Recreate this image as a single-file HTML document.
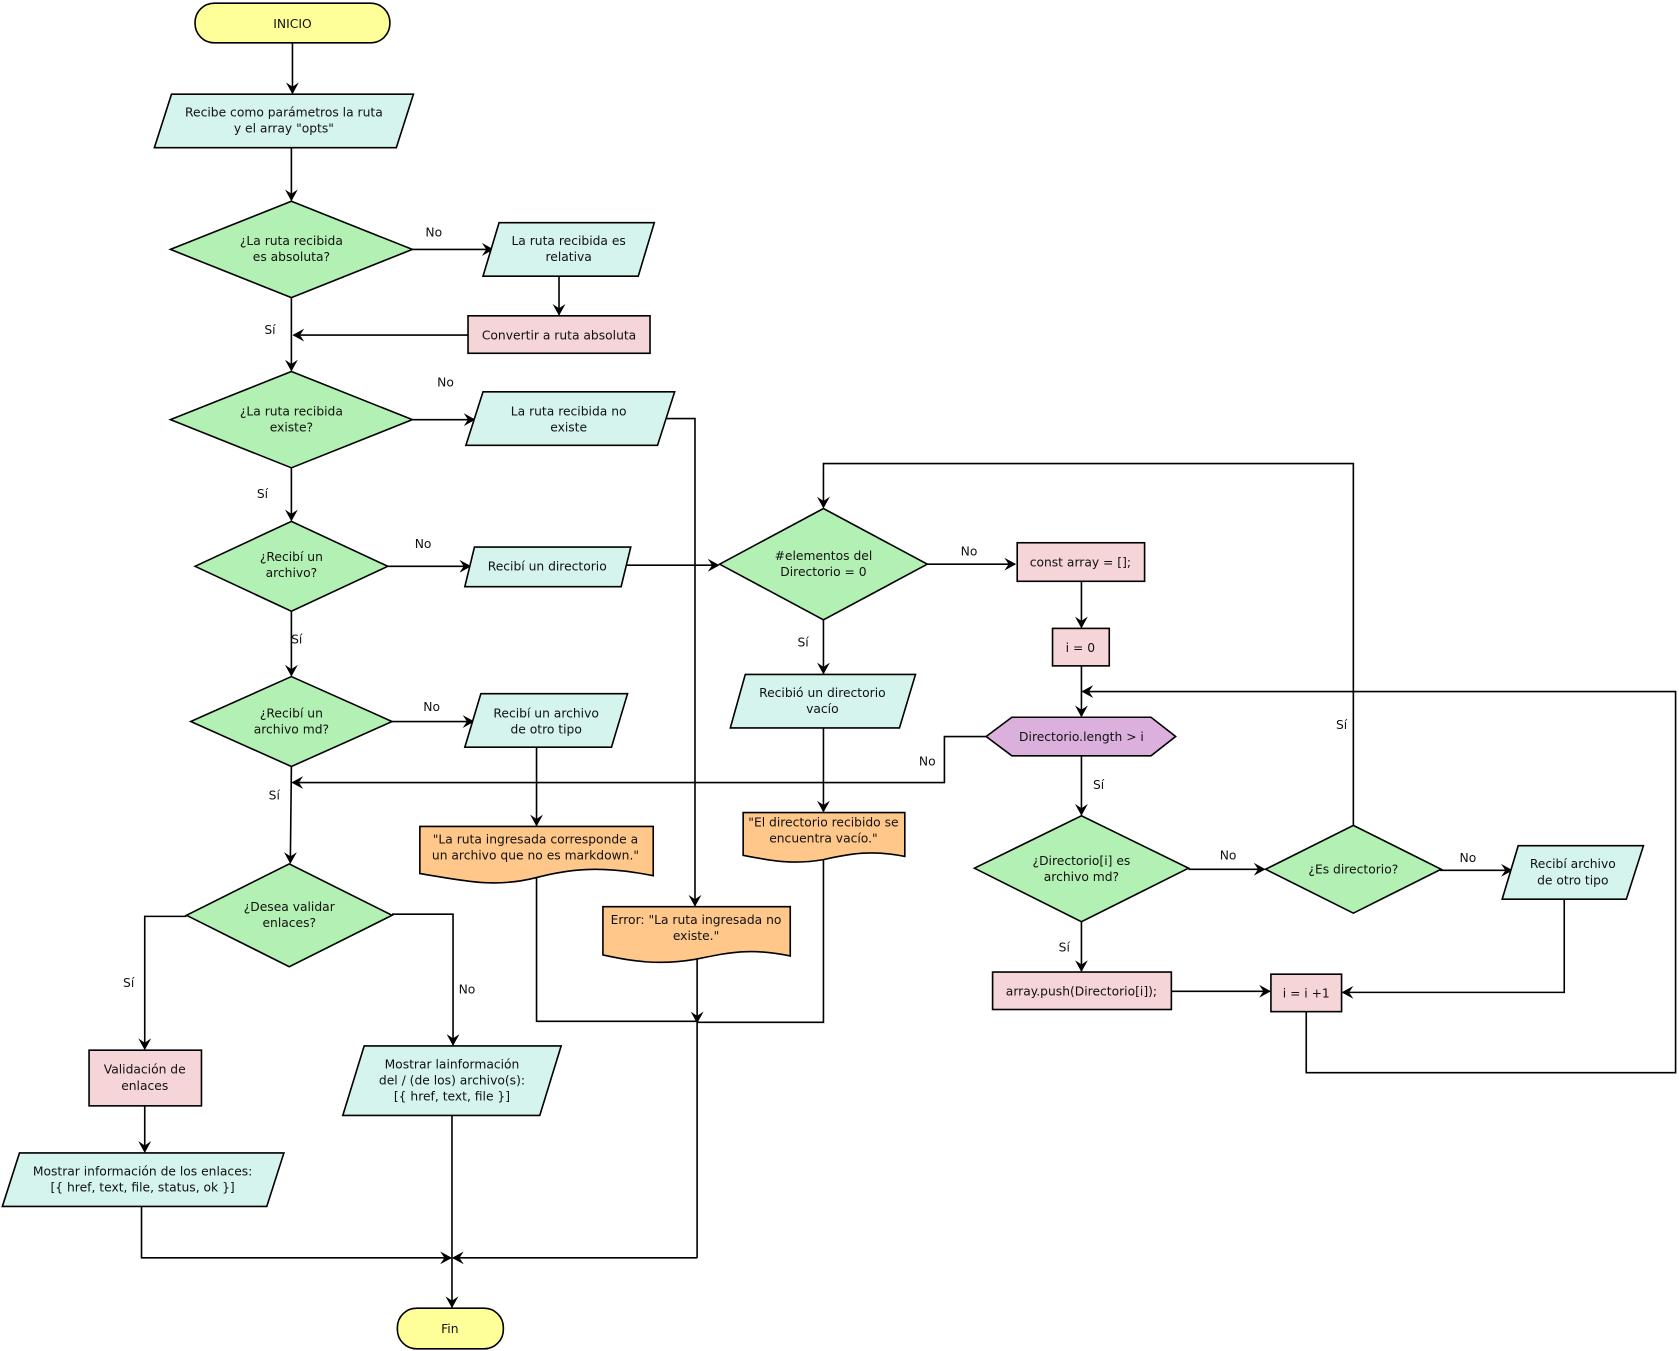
<!DOCTYPE html>
<html><head><meta charset="utf-8"><style>
html,body{margin:0;padding:0;background:#fff;}
svg{display:block;}
text{font-family:"DejaVu Sans","Liberation Sans",sans-serif;font-size:11.5px;fill:#111;text-anchor:middle;}
.s{stroke:#000;stroke-width:1.5;}
.l{fill:none;stroke:#000;stroke-width:1.5;}
</style></head><body>
<svg width="1679" height="1351" viewBox="0 0 1568 1262" xmlns="http://www.w3.org/2000/svg">
<defs><marker id="a" markerWidth="12" markerHeight="12" refX="10" refY="6" orient="auto" markerUnits="userSpaceOnUse"><path d="M0,0 L11,6 L0,12 L4,6 Z" fill="#000"/></marker></defs>

<!-- connectors -->
<g class="l" marker-end="url(#a)">
<path d="M273,40 V87"/>
<path d="M272,138 V187"/>
<path d="M385,233 H460"/>
<path d="M522,258 V294"/>
<path d="M437,313 H274"/>
<path d="M272,278 V346"/>
<path d="M385,392 H443"/>
<path d="M620,391 H649 V846"/>
<path d="M272,437 V486"/>
<path d="M362,529 H439"/>
<path d="M575,528 H671"/>
<path d="M272,571 V631"/>
<path d="M366,674 H442"/>
<path d="M501,698 V771"/>
<path d="M272,716 L271,806"/>
<path d="M921,688 H882 V731 H273"/>
<path d="M174,856 H135 V980"/>
<path d="M366,854 H423 V976"/>
<path d="M135,1033 V1076"/>
<path d="M132,1127 V1175 H421"/>
<path d="M422,1042 V1221"/>
<path d="M651,1175 H423"/>
<path d="M651,895 V955"/>
<path d="M769,579 V629"/>
<path d="M769,680 V758"/>
<path d="M866,527 H948"/>
<path d="M1010,543 V586"/>
<path d="M1010,622 V669"/>
<path d="M1220,945 V1002 H1565 V646 H1011"/>
<path d="M1010,706 V761"/>
<path d="M1110,812 H1181"/>
<path d="M1010,861 V907"/>
<path d="M1345,813 H1412"/>
<path d="M1264,771 V433 H769 V474"/>
<path d="M1094,926 H1186"/>
<path d="M1461,840 V927 H1254"/>
</g>
<g class="l">
<path d="M501,820 V954 H651"/>
<path d="M769,803 V955 H651"/>
<path d="M651,955 V1175"/>
</g>

<!-- shapes -->
<g class="s">
<rect x="182" y="3" width="182" height="37" rx="18" fill="#ffff99"/>
<polygon points="160,88 386,88 370,138 144,138" fill="#d5f4ee"/>
<polygon points="159,233 272,188 385,233 272,278" fill="#b3f0b3"/>
<polygon points="466,208 611,208 596,258 451,258" fill="#d5f4ee"/>
<rect x="437" y="295" width="170" height="35" fill="#f5d5d8"/>
<polygon points="159,392 272,347 385,392 272,437" fill="#b3f0b3"/>
<polygon points="451,366 630,366 614,416 435,416" fill="#d5f4ee"/>
<polygon points="182,529 272,487 362,529 272,571" fill="#b3f0b3"/>
<polygon points="443,511 589,511 580,548 434,548" fill="#d5f4ee"/>
<polygon points="178,674 272,632 366,674 272,716" fill="#b3f0b3"/>
<polygon points="449,648 586,648 571,698 434,698" fill="#d5f4ee"/>
<path d="M392,772 H610 V818 C560,808 530,812 500,820 C460,830 430,822 392,816 Z" fill="#ffc88a"/>
<polygon points="174,855 270,807 366,855 270,903" fill="#b3f0b3"/>
<rect x="83" y="981" width="105" height="52" fill="#f5d5d8"/>
<polygon points="340,977 524,977 504,1042 320,1042" fill="#d5f4ee"/>
<polygon points="18,1077 265,1077 249,1127 2,1127" fill="#d5f4ee"/>
<rect x="371" y="1222" width="99" height="38" rx="18" fill="#ffff99"/>
<path d="M563,847 H738 V893 C700,885 680,890 650,896 C615,902 590,898 563,892 Z" fill="#ffc88a"/>
<polygon points="672,527 769,475 866,527 769,579" fill="#b3f0b3"/>
<polygon points="696,630 855,630 840,680 682,680" fill="#d5f4ee"/>
<path d="M694,759 H845 V800 C815,794 795,797 769,803 C740,808 720,804 694,799 Z" fill="#ffc88a"/>
<rect x="950" y="507" width="119" height="36" fill="#f5d5d8"/>
<rect x="983" y="587" width="53" height="35" fill="#f5d5d8"/>
<polygon points="945,670 1075,670 1098,688 1075,706 945,706 921,688" fill="#dcb0dc"/>
<polygon points="910,811 1010,762 1110,811 1010,861" fill="#b3f0b3"/>
<polygon points="1182,812 1264,771 1346,812 1264,853" fill="#b3f0b3"/>
<polygon points="1418,790 1535,790 1519,840 1403,840" fill="#d5f4ee"/>
<rect x="927" y="908" width="167" height="35" fill="#f5d5d8"/>
<rect x="1187" y="910" width="66" height="35" fill="#f5d5d8"/>
</g>

<!-- node text -->
<text x="273" y="26">INICIO</text>
<text x="265" y="109">Recibe como parámetros la ruta</text>
<text x="265" y="124">y el array "opts"</text>
<text x="272" y="229">¿La ruta recibida</text>
<text x="272" y="244">es absoluta?</text>
<text x="531" y="229">La ruta recibida es</text>
<text x="531" y="244">relativa</text>
<text x="522" y="317">Convertir a ruta absoluta</text>
<text x="272" y="388">¿La ruta recibida</text>
<text x="272" y="403">existe?</text>
<text x="531" y="388">La ruta recibida no</text>
<text x="531" y="403">existe</text>
<text x="272" y="524">¿Recibí un</text>
<text x="272" y="539">archivo?</text>
<text x="511" y="533">Recibí un directorio</text>
<text x="272" y="670">¿Recibí un</text>
<text x="272" y="685">archivo md?</text>
<text x="510" y="670">Recibí un archivo</text>
<text x="510" y="685">de otro tipo</text>
<text x="500" y="788">"La ruta ingresada corresponde a</text>
<text x="500" y="803">un archivo que no es markdown."</text>
<text x="270" y="851">¿Desea validar</text>
<text x="270" y="866">enlaces?</text>
<text x="135" y="1003">Validación de</text>
<text x="135" y="1018">enlaces</text>
<text x="422" y="998">Mostrar lainformación</text>
<text x="422" y="1013">del / (de los) archivo(s):</text>
<text x="422" y="1028">[{ href, text, file }]</text>
<text x="133" y="1098">Mostrar información de los enlaces:</text>
<text x="133" y="1113">[{ href, text, file, status, ok }]</text>
<text x="420" y="1245">Fin</text>
<text x="650" y="863">Error: "La ruta ingresada no</text>
<text x="650" y="878">existe."</text>
<text x="769" y="523">#elementos del</text>
<text x="769" y="538">Directorio = 0</text>
<text x="768" y="651">Recibió un directorio</text>
<text x="768" y="666">vacío</text>
<text x="769" y="772">"El directorio recibido se</text>
<text x="769" y="787">encuentra vacío."</text>
<text x="1009" y="529">const array = [];</text>
<text x="1009" y="609">i = 0</text>
<text x="1010" y="692">Directorio.length &gt; i</text>
<text x="1010" y="808">¿Directorio[i] es</text>
<text x="1010" y="823">archivo md?</text>
<text x="1264" y="816">¿Es directorio?</text>
<text x="1469" y="811">Recibí archivo</text>
<text x="1469" y="826">de otro tipo</text>
<text x="1010" y="930">array.push(Directorio[i]);</text>
<text x="1220" y="932">i = i +1</text>

<!-- edge labels -->
<text x="405" y="221">No</text>
<text x="252" y="312">Sí</text>
<text x="416" y="361">No</text>
<text x="245" y="465">Sí</text>
<text x="395" y="512">No</text>
<text x="277" y="601">Sí</text>
<text x="403" y="664">No</text>
<text x="256" y="747">Sí</text>
<text x="866" y="715">No</text>
<text x="120" y="922">Sí</text>
<text x="436" y="928">No</text>
<text x="750" y="604">Sí</text>
<text x="905" y="519">No</text>
<text x="1026" y="737">Sí</text>
<text x="1147" y="803">No</text>
<text x="994" y="889">Sí</text>
<text x="1371" y="805">No</text>
<text x="1253" y="681">Sí</text>
</svg>
</body></html>
